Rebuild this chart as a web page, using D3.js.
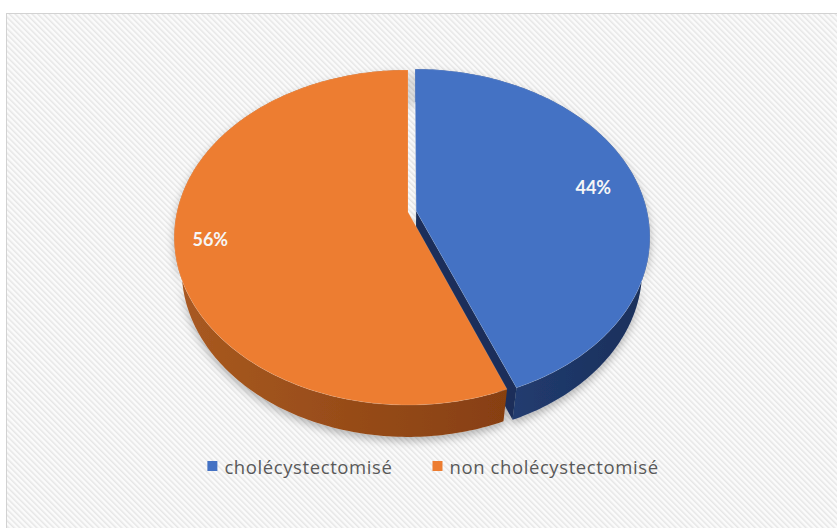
<!DOCTYPE html>
<html><head><meta charset="utf-8">
<script src="https://cdn.jsdelivr.net/npm/d3@7"></script>
<style>html,body{margin:0;padding:0;background:#fff;} svg{display:block}</style>
</head><body>
<svg id="chart" width="837" height="528"></svg>
<script>
// Data
const categories = ["cholécystectomisé", "non cholécystectomisé"];
const values = [44, 56];
const pctLabels = ["44%", "56%"];
const topColors = ["#4472C4", "#ED7D31"];
const sideColors = [["#27457f", "#1a2f5a"], ["#a95a21", "#873f11"]];

const W = 837, H = 528;
const svg = d3.select("#chart");
const defs = svg.append("defs");

// Hatched chart-area background
const pat = defs.append("pattern").attr("id", "hatch")
  .attr("width", 4).attr("height", 4)
  .attr("patternUnits", "userSpaceOnUse")
  .attr("patternTransform", "rotate(-45)");
pat.append("rect").attr("width", 4).attr("height", 4).attr("fill", "#fbfbfb");
pat.append("rect").attr("width", 1.5).attr("height", 4).attr("fill", "#e6e6e6");

svg.append("rect").attr("x", 6.5).attr("y", 13.5)
  .attr("width", W).attr("height", H)
  .attr("fill", "url(#hatch)").attr("stroke", "#d2d2d2");

// Soft shadow under the pie body
const sh = defs.append("filter").attr("id", "shadow")
  .attr("x", "-20%").attr("y", "-20%").attr("width", "140%").attr("height", "140%");
sh.append("feDropShadow").attr("dx", 0).attr("dy", 4).attr("stdDeviation", 4)
  .attr("flood-color", "#000").attr("flood-opacity", 0.28);

// Side-wall gradients
sideColors.forEach((c, i) => {
  const g = defs.append("linearGradient").attr("id", "side" + i)
    .attr("x1", "0%").attr("x2", "100%").attr("y1", "0%").attr("y2", "0%");
  g.append("stop").attr("offset", "0%").attr("stop-color", c[0]);
  g.append("stop").attr("offset", "100%").attr("stop-color", c[1]);
});

// Perspective projection of a tilted disc (radius 1)
const tilt = 45.1 * Math.PI / 180, S = Math.sin(tilt), C = Math.cos(tilt);
const D = 4.64, F = 1072, cx = 408, cy = 212, depth = 0.21, explodeDist = 0.036;
function project(x, y, z) {
  const rx = x, ry = y - D * S, rz = z - D * C;
  const yc = ry * C - rz * S, zc = -ry * S - rz * C;
  return [cx + F * rx / zc, cy - F * yc / zc];
}
function discPoint(theta, r, y, off) {
  return project(off[0] + r * Math.sin(theta), y, off[1] - r * Math.cos(theta));
}

const pie = d3.pie().sort(null).startAngle(0).endAngle(2 * Math.PI);
const arcs = pie(values).map((a, i) => {
  const mid = (a.startAngle + a.endAngle) / 2;
  const e = i === 0 ? explodeDist : 0;
  return Object.assign(a, { i, mid, off: [e * Math.sin(mid), -e * Math.cos(mid)] });
});

function arcPts(a, y) {
  const n = Math.max(8, Math.ceil((a.endAngle - a.startAngle) / (Math.PI / 180)));
  return d3.range(n + 1).map(k => discPoint(a.startAngle + (a.endAngle - a.startAngle) * k / n, 1, y, a.off));
}
const line = d3.line();

const body = svg.append("g").attr("filter", "url(#shadow)");

// Outer walls + visible radial cut faces
arcs.forEach(a => {
  const top = arcPts(a, 0), bot = arcPts(a, -depth).reverse();
  body.append("path").attr("d", line(top.concat(bot)) + "Z")
    .attr("fill", `url(#side${a.i})`);
  if (a.off[0] !== 0 || a.off[1] !== 0) {
    [a.startAngle, a.endAngle].forEach((t, k) => {
      const q = [discPoint(t, 0, 0, a.off), discPoint(t, 1, 0, a.off),
                 discPoint(t, 1, -depth, a.off), discPoint(t, 0, -depth, a.off)];
      body.append("path").attr("d", line(q) + "Z")
        .attr("fill", k === 0 ? "#c9ccd3" : sideColors[a.i][1]);
    });
  }
});

// Top faces
const tops = svg.append("g");
arcs.forEach(a => {
  const pts = [discPoint(0, 0, 0, a.off)].concat(arcPts(a, 0));
  tops.append("path").attr("d", line(pts) + "Z")
    .attr("fill", topColors[a.i])
    .attr("stroke", "rgba(255,255,255,0.18)").attr("stroke-width", 0.8);
});

// Percentage labels
const labelR = [0.8, 0.85];
arcs.forEach(a => {
  const p = discPoint(a.mid, labelR[a.i], 0, a.off);
  svg.append("text").attr("x", p[0]).attr("y", p[1])
    .attr("text-anchor", "middle").attr("dominant-baseline", "central")
    .attr("font-family", "Lato, 'Open Sans', sans-serif").attr("font-weight", "bold")
    .attr("font-size", 18).attr("fill", "#f6f6f6")
    .text(pctLabels[a.i]);
});

// Legend
const legend = svg.append("g");
const ly = 466, sq = 10, pad = 7, gap = 40;
const items = categories.map((c, i) => {
  const g = legend.append("g");
  g.append("rect").attr("width", sq).attr("height", sq).attr("y", -sq / 2).attr("fill", topColors[i]);
  const t = g.append("text").attr("x", sq + pad).attr("dominant-baseline", "central")
    .attr("font-family", "'Open Sans', Lato, sans-serif").attr("font-size", 18.5)
    .attr("letter-spacing", 0.6)
    .attr("fill", "#595959").text(c);
  return { g, w: sq + pad + t.node().getComputedTextLength() };
});
const total = d3.sum(items, d => d.w) + gap * (items.length - 1);
let lx = 433 - total / 2;
items.forEach(it => { it.g.attr("transform", `translate(${lx},${ly})`); lx += it.w + gap; });
</script>
</body></html>
